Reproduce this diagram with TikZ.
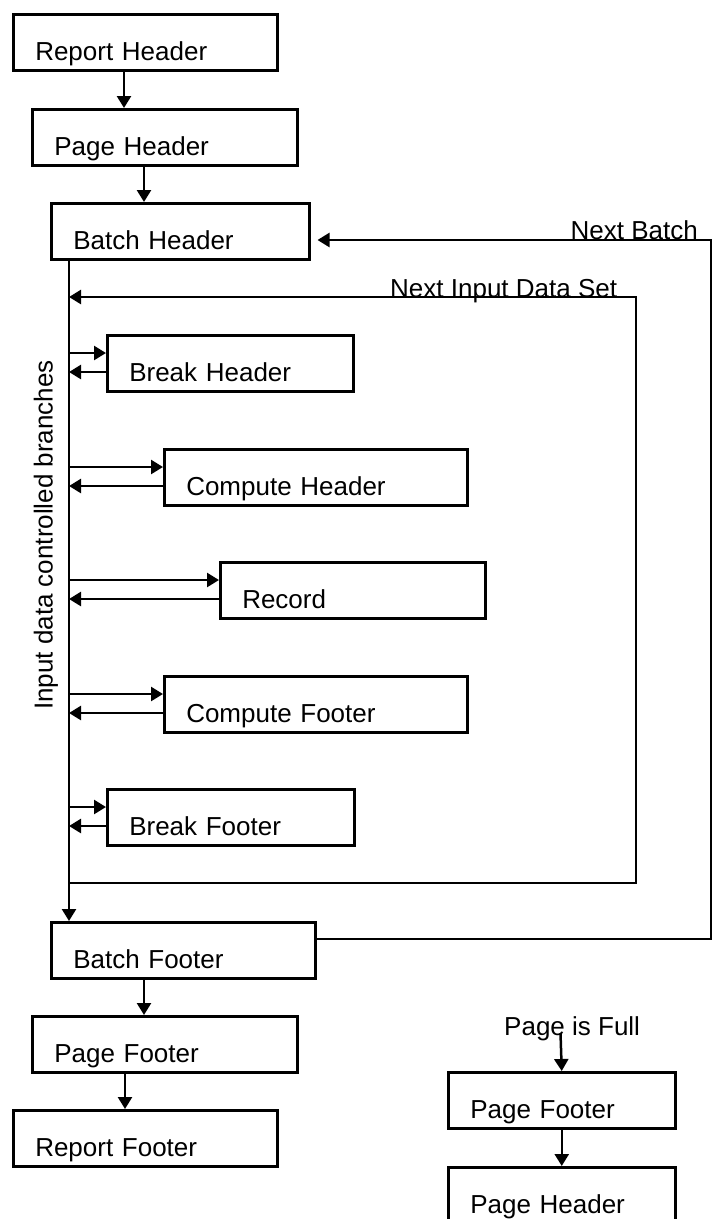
\documentclass[tikz,border=0pt]{standalone}
\usepackage{fontspec}
\setmainfont{Liberation Sans}
\usepackage{tikz}
\usetikzlibrary{arrows.meta,positioning,calc}
\tikzstyle{block}=[draw,line width=2.5pt,anchor=north west,inner xsep=22pt,inner ysep=2pt,text height=44pt,text depth=8pt,align=left]
\tikzstyle{flow}=[line width=2.5pt,-{Triangle[length=12pt,width=14pt]}]

\begin{document}
\begin{tikzpicture}[x=1pt,y=-1pt,font=\fontsize{26}{30}\selectfont]
\useasboundingbox (0,0) rectangle (717,1219);
% main chain
\node [block,text width=220pt] (rh) at (12,13) {Report Header};
\node [block,text width=221pt] (ph) at (31,108) {Page Header};
\node [block,text width=214pt] (bh) at (50,202) {Batch Header};
\node [block,text width=202pt] (brh) at (106,334) {Break Header};
\node [block,text width=259pt] (ch) at (163,448) {Compute Header};
\node [block,text width=221pt] (rec) at (219,561) {Record};
\node [block,text width=259pt] (cf) at (163,675) {Compute Footer};
\node [block,text width=203pt] (brf) at (106,788) {Break Footer};
\node [block,text width=220pt] (bf) at (50,921) {Batch Footer};
\node [block,text width=221pt] (pf) at (31,1015) {Page Footer};
\node [block,text width=220pt] (rf) at (12,1109) {Report Footer};
% page break
\node [block,text width=183pt] (pf2) at (447,1071) {Page Footer};
\node [block,text width=183pt] (ph2) at (447,1166) {Page Header};
\node [anchor=base west,inner sep=0pt] (full) at (504,1035) {Page is Full};
\coordinate (fulltop) at (560.5,1033);

\draw [flow] ([xshift=112pt]rh.south west) -- ([xshift=112pt]rh.south west |- ph.north);
\draw [flow] ([xshift=113pt]ph.south west) -- ([xshift=113pt]ph.south west |- bh.north);
\draw [flow] ([xshift=94pt]bf.south west) -- ([xshift=94pt]bf.south west |- pf.north);
\draw [flow] ([xshift=94pt]pf.south west) -- ([xshift=94pt]pf.south west |- rf.north);
\draw [flow] (fulltop) -- (pf2.north);
\draw [flow] (pf2.south) -- (ph2.north);

% branches
\coordinate (top) at ([xshift=19pt]bh.south west);
\coordinate (bot) at ([xshift=19pt]bf.north west);
\draw [flow] (top) -- (bot);
\foreach \n in {brh,ch,rec,cf,brf} {
  \draw [flow] ($(top |- \n.north west)+(0,19)$) -- ($(\n.north west)+(0,19)$);
  \draw [flow] ($(\n.north west)+(0,38)$) -- ($(top |- \n.north west)+(0,38)$);
}
\node [rotate=90] (branches) at (46,535) {Input data controlled branches};

% loops
\coordinate (inloop) at (636,297);
\coordinate (outloop) at (711,240);
\draw [flow] (top |- 0,883) -| (inloop) -- (top |- inloop);
\node [anchor=base west,inner sep=0pt] (nextin) at (390,297) {Next Input Data Set};
\draw [flow] ($(bf.north east)+(0,18)$) -| (outloop) -- ($(bh.north east)+(7,38)$);
\node [anchor=base east,inner sep=0pt] (nextb) at (698,239) {Next Batch};
\end{tikzpicture}
\end{document}
